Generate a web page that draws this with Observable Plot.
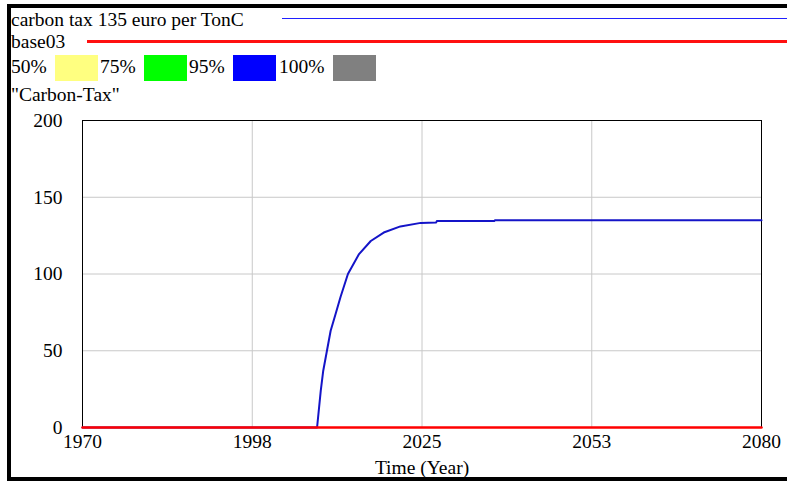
<!DOCTYPE html>
<html>
<head>
<meta charset="utf-8">
<script src="https://cdn.jsdelivr.net/npm/d3@7"></script>
<script src="https://cdn.jsdelivr.net/npm/@observablehq/plot@0.6"></script>
<style>
  html, body { margin: 0; padding: 0; background: #fff; }
  body { width: 787px; height: 481px; position: relative; overflow: hidden; font-family: "Liberation Serif", "Times New Roman", Tinos, "Nimbus Roman", "DejaVu Serif", serif; }
  .t { position: absolute; font-size: 19.5px; line-height: normal; color: #000; white-space: nowrap; }
  .sw { position: absolute; height: 26px; width: 43px; }
  .ln { position: absolute; right: 0; }
  #border { position: absolute; left: 7px; top: 4px; right: -10px; bottom: 0px; border: 4px solid #000; border-right: none; box-sizing: border-box; pointer-events: none; }
  #chart { position: absolute; left: 0; top: 108px; }
  #chart svg text { font-family: "Liberation Serif", "Times New Roman", Tinos, "Nimbus Roman", "DejaVu Serif", serif; }
</style>
</head>
<body>
<div class="t" style="left:11px; top:9.3px;">carbon tax 135 euro per TonC</div>
<div class="ln" style="left:282px; top:17.5px; height:1.5px; background:#2020ff;"></div>
<div class="t" style="left:11px; top:31px;">base03</div>
<div class="ln" style="left:87px; top:40px; height:2.5px; background:#ff1010;"></div>
<div id="legend"></div>
<div class="t" style="left:11px; top:84.3px;">"Carbon-Tax"</div>
<div id="chart"></div>
<div id="border"></div>
<script>
// Series: carbon tax 135 euro per TonC
const taxYears  = [1970, 2008, 2008.6, 2009, 2009.6, 2010.2, 2011, 2011.8, 2013, 2014.8, 2016.7, 2018.8, 2021.5, 2024.8, 2027.3, 2027.4, 2036.7, 2036.8, 2080];
const taxValues = [0,    0,    24,     37,   50,     63,     74,   85,     100,  113,    121.5,  127,    131,    133.3,  133.6,  134.5,  134.5,  135,    135];
// Series: base03
const baseYears  = [1970, 2080];
const baseValues = [0, 0];
// Legend percent bands
const bandLabels = ["50%", "75%", "95%", "100%"];
const bandColors = ["#ffff80", "#00ff00", "#0000ff", "#808080"];
// Axis ticks
const xTickValues = [1970, 1997.5, 2025, 2052.5, 2080];
const yTickValues = [0, 50, 100, 150, 200];

const legend = document.getElementById("legend");
const labelLeft = [11, 100, 189, 279];
const swLeft = [54.5, 143.5, 232.5, 332.5];
bandLabels.forEach((lab, i) => {
  const t = document.createElement("div");
  t.className = "t"; t.style.left = labelLeft[i] + "px"; t.style.top = "56px"; t.textContent = lab;
  legend.appendChild(t);
  const s = document.createElement("div");
  s.className = "sw"; s.style.left = swLeft[i] + "px"; s.style.top = "54.5px"; s.style.background = bandColors[i];
  legend.appendChild(s);
});

const tax = taxYears.map((y, i) => ({year: y, value: taxValues[i]}));
const base = baseYears.map((y, i) => ({year: y, value: baseValues[i]}));

const plot = Plot.plot({
  width: 787,
  height: 373,
  marginLeft: 82,
  marginRight: 26,
  marginTop: 12,
  marginBottom: 54,
  style: {fontFamily: "'Liberation Serif', 'Times New Roman', Tinos, 'DejaVu Serif', serif", fontSize: "19.5px", color: "#000", background: "transparent"},
  x: {domain: [1970, 2080], ticks: xTickValues, tickFormat: d => String(Math.round(d)), tickSize: 0, tickPadding: 7, label: "Time (Year)", labelArrow: "none", labelAnchor: "center", labelOffset: 46},
  y: {domain: [0, 200], ticks: yTickValues, tickSize: 0, tickPadding: 20, label: null},
  marks: [
    Plot.gridX(xTickValues.slice(1, -1), {stroke: "#c8c8c8", strokeOpacity: 1, strokeWidth: 1}),
    Plot.gridY(yTickValues.slice(1, -1), {stroke: "#c8c8c8", strokeOpacity: 1, strokeWidth: 1}),
    Plot.frame({stroke: "#000", strokeWidth: 1}),
    Plot.line(tax, {x: "year", y: "value", stroke: "#1414c8", strokeWidth: 2}),
    Plot.line(base, {x: "year", y: "value", stroke: "#ff0000", strokeWidth: 2.5})
  ]
});
document.getElementById("chart").appendChild(plot);
</script>
</body>
</html>
